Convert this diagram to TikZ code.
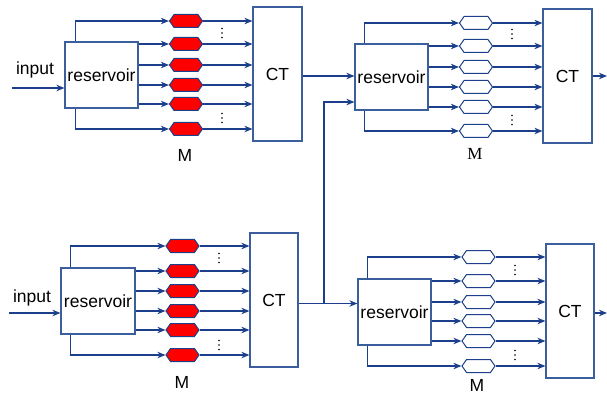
\documentclass[tikz,border=0pt]{standalone}
\usepackage{fontspec}
\setmainfont{Liberation Sans}
\newfontfamily\serifM{Liberation Serif}
\usetikzlibrary{arrows.meta,shapes.symbols}
\definecolor{ln}{HTML}{1B3F8B}
\definecolor{bx}{HTML}{3B5E9C}
\tikzset{
  x=1pt,y=-1pt,
  line/.style={draw=ln,line width=1.2pt},
  arr/.style={line,-{Stealth[length=8pt,width=6.5pt,inset=2.5pt]}},
  resbox/.style={draw=bx,line width=1.2pt,fill=white,minimum width=73pt,minimum height=66pt,inner sep=0pt,font=\fontsize{17.5}{20}\selectfont},
  ctbox/.style={draw=bx,line width=1.2pt,fill=white,minimum width=49pt,minimum height=134pt,inner sep=0pt,font=\fontsize{17.5}{20}\selectfont},
  hexr/.style={signal,signal to=east and west,signal pointer angle=110,draw=ln,line width=1pt,fill=red,minimum width=33pt,minimum height=13pt,inner sep=0pt},
  hexw/.style={hexr,fill=white},
  lbl/.style={inner sep=0pt,font=\fontsize{17.5}{20}\selectfont},
  dt/.style={circle,fill=black,inner sep=0pt,minimum size=1.8pt},
}
\newcommand{\threedots}[3]{%
  \node[dt] (#1a) at (#2,#3-4.5) {};
  \node[dt] (#1b) at (#2,#3) {};
  \node[dt] (#1c) at (#2,#3+4.5) {};}
\begin{document}
\begin{tikzpicture}
\useasboundingbox (0,0) rectangle (607,395);
% ---------- block 1 (top left)
\node[resbox] (r1) at (101.5,75) {reservoir};
\node[ctbox] (c1) at (277.5,74) {CT};
\foreach \i/\y in {1/21,2/44,3/65,4/85,5/104,6/129}{
  \node[hexr] (h1\i) at (186,\y) {};
  \draw[arr] (h1\i.east) -- (c1.west |- h1\i.east);
}
\draw[arr] ([xshift=11pt]r1.north west) |- (h11.west);
\draw[arr] ([xshift=11pt]r1.south west) |- (h16.west);
\foreach \i in {2,3,4,5}{\draw[arr] (r1.east |- h1\i.west) -- (h1\i.west);}
\threedots{d11}{222}{33}
\threedots{d12}{222}{118}
\node[lbl] (m1) at (185,155) {M};
\coordinate (in1) at (12,88);
\draw[arr] (in1) -- (in1 -| r1.west);
\node[lbl] (t1) at (35,70) {input};
% ---------- block 2 (top right)
\node[resbox] (r2) at (391.5,77) {reservoir};
\node[ctbox] (c2) at (567.5,76) {CT};
\foreach \i/\y in {1/23,2/46,3/67,4/87,5/107,6/131}{
  \node[hexw] (h2\i) at (476,\y) {};
  \draw[arr] (h2\i.east) -- (c2.west |- h2\i.east);
}
\draw[arr] ([xshift=10pt]r2.north west) |- (h21.west);
\draw[arr] ([xshift=10pt]r2.south west) |- (h26.west);
\foreach \i in {2,3,4,5}{\draw[arr] (r2.east |- h2\i.west) -- (h2\i.west);}
\threedots{d21}{512}{34}
\threedots{d22}{512}{120}
\node[lbl,font=\fontsize{17}{20}\serifM] (m2) at (475,154) {M};
\coordinate (o2) at (607,76);
\draw[arr] (c2.east |- o2) -- (o2);
% ---------- block 3 (bottom left)
\node[resbox,minimum width=74pt] (r3) at (98,301) {reservoir};
\node[ctbox,minimum width=48pt] (c3) at (274,300) {CT};
\foreach \i/\y in {1/246,2/271,3/291,4/311,5/330,6/355}{
  \node[hexr] (h3\i) at (182.5,\y) {};
  \draw[arr] (h3\i.east) -- (c3.west |- h3\i.east);
}
\draw[arr] ([xshift=10pt]r3.north west) |- (h31.west);
\draw[arr] ([xshift=10pt]r3.south west) |- (h36.west);
\foreach \i in {2,3,4,5}{\draw[arr] (r3.east |- h3\i.west) -- (h3\i.west);}
\threedots{d31}{219}{258}
\threedots{d32}{219}{345}
\node[lbl] (m3) at (182,382) {M};
\coordinate (in3) at (9,313);
\draw[arr] (in3) -- (in3 -| r3.west);
\node[lbl] (t3) at (32,298) {input};
% ---------- block 4 (bottom right)
\node[resbox] (r4) at (394.5,312) {reservoir};
\node[ctbox,minimum width=48pt] (c4) at (570,311) {CT};
\foreach \i/\y in {1/257,2/281,3/302,4/321,5/341,6/366}{
  \node[hexw] (h4\i) at (478.5,\y) {};
  \draw[arr] (h4\i.east) -- (c4.west |- h4\i.east);
}
\draw[arr] ([xshift=10pt]r4.north west) |- (h41.west);
\draw[arr] ([xshift=10pt]r4.south west) |- (h46.west);
\foreach \i in {2,3,4,5}{\draw[arr] (r4.east |- h4\i.west) -- (h4\i.west);}
\threedots{d41}{515}{270}
\threedots{d42}{515}{355}
\node[lbl] (m4) at (477,385.5) {M};
\coordinate (o4) at (607,313);
\draw[arr] (c4.east |- o4) -- (o4);
% ---------- inter-block connections
\draw[arr] (c1.east |- 0,76) -- (r2.west |- 0,76);
\coordinate (j) at (324,303.5);
\coordinate (k) at (324,102);
\draw[line] (c3.east |- j) -- (j);
\draw[arr] (j) -- (j -| r4.west);
\draw[arr] (j) -- (k) -- (k -| r2.west);
\end{tikzpicture}
\end{document}
